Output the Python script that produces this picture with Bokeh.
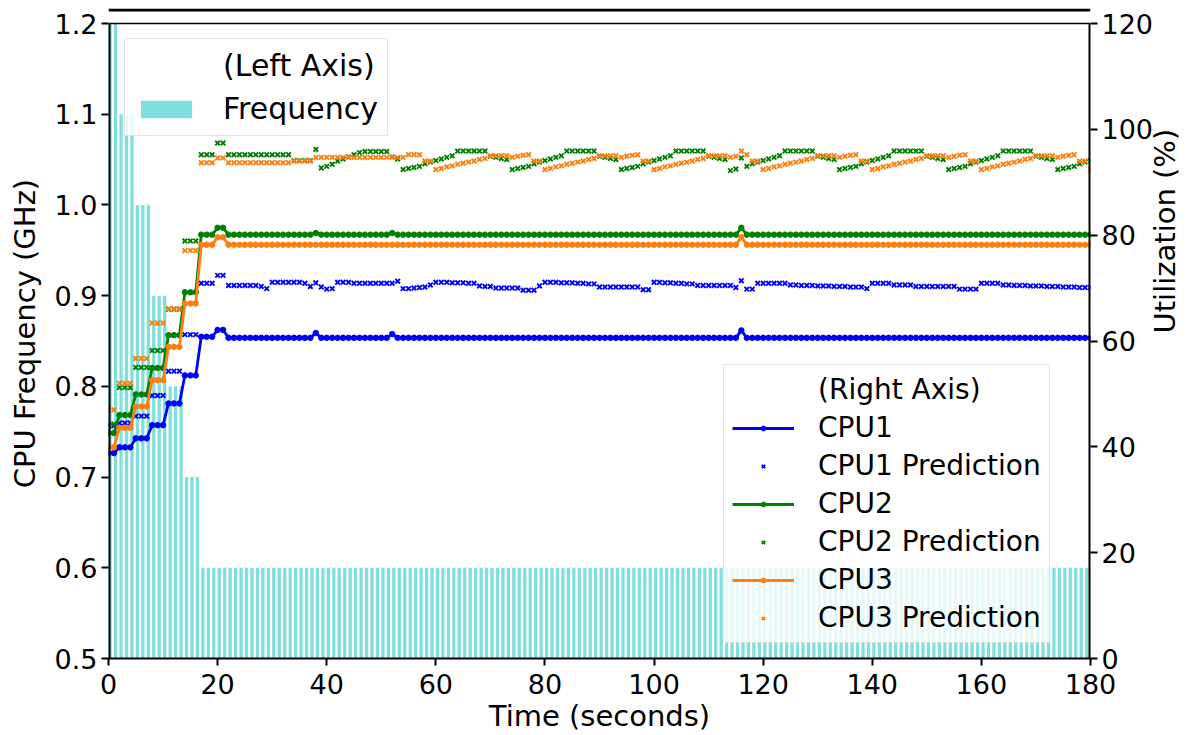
import math
from bokeh.plotting import figure
from bokeh.models import (Range1d, LinearAxis, FixedTicker, PrintfTickFormatter,
                          Legend, LegendItem, BoxAnnotation, Span)
from bokeh.embed import file_html
from bokeh.resources import INLINE

# ---------------- data ----------------
time = list(range(0, 181))

freq = [1.2] * 2 + [1.1] * 3 + [1.0] * 3 + [0.9] * 3 + [0.8] * 3 + [0.7] * 3 + [0.6] * 164

cpu1 = ([38.8] * 2 + [39.9] * 3 + [41.6] * 3 + [44.1] * 3 + [48.2] * 3 + [53.5] * 3 + [60.8] * 3
        + [62.1] * 2 + [60.6] * 16 + [61.5] + [60.6] * 13 + [61.3] + [60.6] * 63 + [62.0] + [60.6] * 64)
cpu2 = ([42.6] * 2 + [46.0] * 3 + [49.9] * 3 + [54.9] * 3 + [61.1] * 3 + [69.2] * 3 + [80.1] * 3
        + [81.4] * 2 + [80.1] * 16 + [80.4] + [80.1] * 13 + [80.4] + [80.1] * 63 + [81.4] + [80.1] * 64)
cpu3 = ([39.9] * 2 + [43.6] * 3 + [47.6] * 3 + [52.6] * 3 + [58.9] * 3 + [67.1] * 3 + [78.2] * 3
        + [79.6] * 2 + [78.2] * 94 + [79.6] + [78.2] * 64)

pred1 = [44.0, 44.0, 44.5, 44.5, 44.5, 45.8, 45.8, 45.8, 49.7, 49.7,
         49.7, 54.3, 54.3, 54.3, 61.2, 61.2, 61.2, 70.9, 70.9, 70.9,
         72.4, 72.4, 70.5, 70.5, 70.5, 70.5, 70.5, 70.5, 70.3, 69.9,
         71.1, 71.1, 71.1, 71.1, 71.1, 71.1, 70.9, 70.3, 71.0, 70.2,
         69.8, 69.9, 71.1, 71.1, 71.1, 70.9, 70.9, 70.9, 70.9, 70.9,
         70.9, 70.9, 70.9, 71.3, 69.9, 69.9, 70.0, 70.1, 70.2, 70.6,
         71.1, 71.1, 71.1, 71.0, 71.0, 71.0, 70.9, 70.9, 70.4, 70.3,
         70.3, 70.0, 70.0, 70.0, 70.0, 70.0, 69.6, 69.6, 69.6, 70.4,
         71.1, 71.1, 71.1, 71.0, 71.0, 71.0, 70.9, 70.9, 70.8, 70.8,
         70.2, 70.2, 70.2, 70.2, 70.2, 70.2, 70.2, 70.2, 69.7, 69.7,
         71.1, 71.1, 71.0, 71.0, 70.9, 70.9, 70.8, 70.8, 70.5, 70.5,
         70.5, 70.5, 70.5, 70.5, 70.5, 70.1, 71.4, 69.8, 69.8, 70.9,
         70.9, 70.9, 70.9, 70.9, 70.9, 70.6, 70.6, 70.5, 70.5, 70.5,
         70.4, 70.4, 70.4, 70.3, 70.3, 70.3, 70.2, 70.2, 70.2, 69.9,
         70.9, 70.9, 70.9, 70.9, 70.6, 70.6, 70.6, 70.6, 70.3, 70.3,
         70.3, 70.3, 70.3, 70.3, 70.3, 70.3, 69.8, 69.8, 69.8, 69.8,
         70.9, 70.9, 70.9, 70.9, 70.6, 70.6, 70.5, 70.5, 70.5, 70.4,
         70.4, 70.4, 70.3, 70.3, 70.3, 70.2, 70.2, 70.2, 70.1, 70.1, 70.1]

pred2 = [44.3, 44.3, 51.2, 51.2, 51.2, 55.0, 55.0, 55.0, 58.2, 58.2,
         58.2, 66.0, 66.0, 66.0, 78.9, 78.9, 78.9, 95.2, 95.2, 95.2,
         97.4, 97.4, 95.2, 95.2, 95.2, 95.2, 95.2, 95.2, 95.2, 95.2,
         95.2, 95.2, 95.2, 95.2, 94.1, 94.1, 94.1, 94.1, 96.2, 92.7,
         93.0, 93.4, 94.0, 94.4, 94.8, 95.2, 95.6, 95.8, 95.8, 95.8,
         95.8, 95.8, 94.8, 94.4, 92.4, 92.6, 92.8, 93.0, 93.5, 93.8,
         94.1, 94.4, 94.7, 95.0, 95.9, 95.9, 95.9, 95.9, 95.9, 95.9,
         94.9, 94.7, 94.5, 94.3, 92.4, 92.6, 92.8, 93.0, 93.5, 93.8,
         94.1, 94.4, 94.7, 95.0, 95.9, 95.9, 95.9, 95.9, 95.9, 95.9,
         94.9, 94.7, 94.5, 94.3, 92.4, 92.6, 92.8, 93.0, 93.5, 93.8,
         94.1, 94.4, 94.7, 95.0, 95.9, 95.9, 95.9, 95.9, 95.9, 95.9,
         94.9, 94.7, 94.5, 94.3, 92.2, 92.5, 94.6, 93.0, 93.5, 93.8,
         94.1, 94.4, 94.7, 95.0, 95.9, 95.9, 95.9, 95.9, 95.9, 95.9,
         94.9, 94.7, 94.5, 94.3, 92.4, 92.6, 92.8, 93.0, 93.5, 93.8,
         94.1, 94.4, 94.7, 95.0, 95.9, 95.9, 95.9, 95.9, 95.9, 95.9,
         94.9, 94.7, 94.5, 94.3, 92.4, 92.6, 92.8, 93.0, 93.5, 93.8,
         94.1, 94.4, 94.7, 95.0, 95.9, 95.9, 95.9, 95.9, 95.9, 95.9,
         94.9, 94.7, 94.5, 94.3, 92.4, 92.6, 92.8, 93.0, 93.5, 93.8, 94.1]

pred3 = [47.0, 47.0, 52.0, 52.0, 52.0, 56.7, 56.7, 56.7, 63.4, 63.4,
         63.4, 66.1, 66.1, 66.1, 77.1, 77.1, 77.1, 93.7, 93.7, 93.7,
         94.6, 94.6, 93.7, 93.7, 93.7, 93.7, 93.7, 93.7, 93.7, 93.7,
         93.7, 93.7, 93.7, 93.7, 94.0, 94.0, 94.0, 94.0, 94.7, 94.7,
         94.7, 94.7, 94.7, 94.7, 94.7, 94.7, 94.7, 94.7, 94.7, 94.7,
         94.7, 94.7, 94.7, 94.7, 94.7, 95.2, 95.2, 95.2, 94.0, 94.0,
         92.4, 92.6, 92.9, 93.1, 93.4, 93.6, 93.8, 94.0, 94.3, 94.5,
         95.0, 95.0, 95.0, 95.0, 94.7, 94.9, 95.1, 95.2, 94.0, 94.0,
         92.4, 92.6, 92.9, 93.1, 93.4, 93.6, 93.8, 94.0, 94.3, 94.5,
         95.0, 95.0, 95.0, 95.0, 94.7, 94.9, 95.1, 95.2, 94.0, 94.0,
         92.4, 92.6, 92.9, 93.1, 93.4, 93.6, 93.8, 94.0, 94.3, 94.5,
         95.0, 95.0, 95.0, 95.0, 94.7, 94.9, 95.9, 95.2, 94.0, 94.0,
         92.4, 92.6, 92.9, 93.1, 93.4, 93.6, 93.8, 94.0, 94.3, 94.5,
         95.0, 95.0, 95.0, 95.0, 94.7, 94.9, 95.1, 95.2, 94.0, 94.0,
         92.4, 92.6, 92.9, 93.1, 93.4, 93.6, 93.8, 94.0, 94.3, 94.5,
         95.0, 95.0, 95.0, 95.0, 94.7, 94.9, 95.1, 95.2, 94.0, 94.0,
         92.4, 92.6, 92.9, 93.1, 93.4, 93.6, 93.8, 94.0, 94.3, 94.5,
         95.0, 95.0, 95.0, 95.0, 94.7, 94.9, 95.1, 95.2, 94.0, 94.0, 92.4]

x_ticks = [0, 20, 40, 60, 80, 100, 120, 140, 160, 180]
freq_ticks = [0.5, 0.6, 0.7, 0.8, 0.9, 1.0, 1.1, 1.2]
util_ticks = [0, 20, 40, 60, 80, 100, 120]

# ---------------- layout / styles ----------------
FONT = "DejaVu Sans"
TICK_FS = "27px"
LABEL_FS = "29px"
BAR_W = 0.6
BAR_COLOR = "#00bfbf"
C1, C2, C3 = "#0000ff", "#008000", "#ff7f0e"

X0, X1 = 0, 180
F0, F1 = 0.5, 1.2          # frequency axis limits
U0, U1 = 0, 120            # utilisation axis limits
AX_PX = 635                # pixel height of the axes box
EXTRA_PX = 15              # band above the axes box holding the black rule
RULE_PX = 3
f_per_px = (F1 - F0) / AX_PX
u_per_px = (U1 - U0) / AX_PX
F_TOP = F1 + EXTRA_PX * f_per_px
U_TOP = U1 + EXTRA_PX * u_per_px

p = figure(width=1202, height=735, x_range=Range1d(X0, X1), y_range=Range1d(F0, F_TOP),
           output_backend="svg", toolbar_location=None,
           min_border_left=108, min_border_right=112, min_border_top=8, min_border_bottom=77)
p.extra_y_ranges = {"util": Range1d(U0, U_TOP)}
p.grid.visible = False
p.outline_line_color = None
p.background_fill_color = "white"
p.border_fill_color = "white"

# bars (left axis)
bars = p.quad(left=time, right=[t + BAR_W for t in time], bottom=0, top=freq,
              fill_color=BAR_COLOR, fill_alpha=0.5, line_color=None)

# lines & predictions (right axis)
def series(vals, pvals, color):
    ln = p.line(time, vals, line_color=color, line_width=2.8, y_range_name="util")
    dots = p.scatter(time, vals, marker="circle", size=5.5, fill_color=color, line_color=color,
                     y_range_name="util")
    px = p.scatter(time, pvals, marker="x", size=6.5, line_color=color, line_width=1.9,
                   y_range_name="util")
    return ln, dots, px

l1, d1, x1 = series(cpu1, pred1, C1)
l2, d2, x2 = series(cpu2, pred2, C2)
l3, d3, x3 = series(cpu3, pred3, C3)

# spines (left / right / top of the axes box) and the thick rule above
p.segment(x0=[X0, X1], y0=[F0, F0], x1=[X0, X1], y1=[F1, F1], line_color="black", line_width=4)
p.add_layout(Span(location=F1, dimension="width", line_color="black", line_width=1.4))
p.add_layout(BoxAnnotation(left=X0, right=X1, bottom=F_TOP - RULE_PX * f_per_px, top=F_TOP,
                           fill_color="black", fill_alpha=1.0, line_color=None))

# axes
p.xaxis.ticker = FixedTicker(ticks=x_ticks)
p.xaxis.axis_label = "Time (seconds)"
p.yaxis.ticker = FixedTicker(ticks=freq_ticks)
p.yaxis.formatter = PrintfTickFormatter(format="%.1f")
p.yaxis.axis_label = "CPU Frequency (GHz)"

right = LinearAxis(y_range_name="util", ticker=FixedTicker(ticks=util_ticks),
                   axis_label="Utilization (%)")
p.add_layout(right, "right")

for ax in [p.xaxis[0], p.yaxis[0], right]:
    ax.axis_line_width = 2
    ax.axis_line_color = "black"
    ax.major_tick_line_width = 2
    ax.major_tick_line_color = "black"
    ax.major_tick_out = 7
    ax.major_tick_in = 0
    ax.minor_tick_line_color = None
    ax.major_label_text_font = FONT
    ax.major_label_text_font_size = TICK_FS
    ax.major_label_text_color = "black"
    ax.axis_label_text_font = FONT
    ax.axis_label_text_font_size = LABEL_FS
    ax.axis_label_text_font_style = "normal"
    ax.axis_label_text_color = "black"
    ax.major_label_standoff = 4
p.yaxis.axis_line_color = None
right.axis_line_color = None
p.xaxis.major_label_standoff = 8
p.xaxis.axis_label_standoff = 2
p.yaxis.axis_label_standoff = 10
right.axis_label_standoff = 9
right.axis_label_orientation = math.pi / 2

# dummy (title-like) legend entries
dummy1 = p.line(x=[], y=[], line_alpha=0)
dummy2 = p.line(x=[], y=[], line_alpha=0, y_range_name="util")

leg1 = Legend(items=[LegendItem(label="(Left Axis)", renderers=[dummy1]),
                     LegendItem(label="Frequency", renderers=[bars])],
              location=(16, 522))
leg1.label_text_font = FONT
leg1.label_text_font_size = "30px"
leg1.label_text_color = "black"
leg1.glyph_width = 64
leg1.glyph_height = 22
leg1.label_height = 33
leg1.spacing = 8
leg1.padding = 9
leg1.margin = 0
leg1.label_standoff = 25
leg1.border_line_color = "#cccccc"
leg1.border_line_width = 1
leg1.background_fill_color = "white"
leg1.background_fill_alpha = 0.8

leg2 = Legend(items=[LegendItem(label="(Right Axis)", renderers=[dummy2]),
                     LegendItem(label="CPU1", renderers=[l1, d1]),
                     LegendItem(label="CPU1 Prediction", renderers=[x1]),
                     LegendItem(label="CPU2", renderers=[l2, d2]),
                     LegendItem(label="CPU2 Prediction", renderers=[x2]),
                     LegendItem(label="CPU3", renderers=[l3, d3]),
                     LegendItem(label="CPU3 Prediction", renderers=[x3])],
              location=(615, 15))
leg2.label_text_font = FONT
leg2.label_text_font_size = "28px"
leg2.label_text_color = "black"
leg2.glyph_width = 62
leg2.glyph_height = 12
leg2.label_height = 30
leg2.spacing = 5
leg2.padding = 8
leg2.margin = 0
leg2.label_standoff = 24
leg2.border_line_color = "#cccccc"
leg2.border_line_width = 1
leg2.background_fill_color = "white"
leg2.background_fill_alpha = 0.8

p.add_layout(leg1)
p.add_layout(leg2)

open("out.html", "w").write(file_html(p, INLINE))
